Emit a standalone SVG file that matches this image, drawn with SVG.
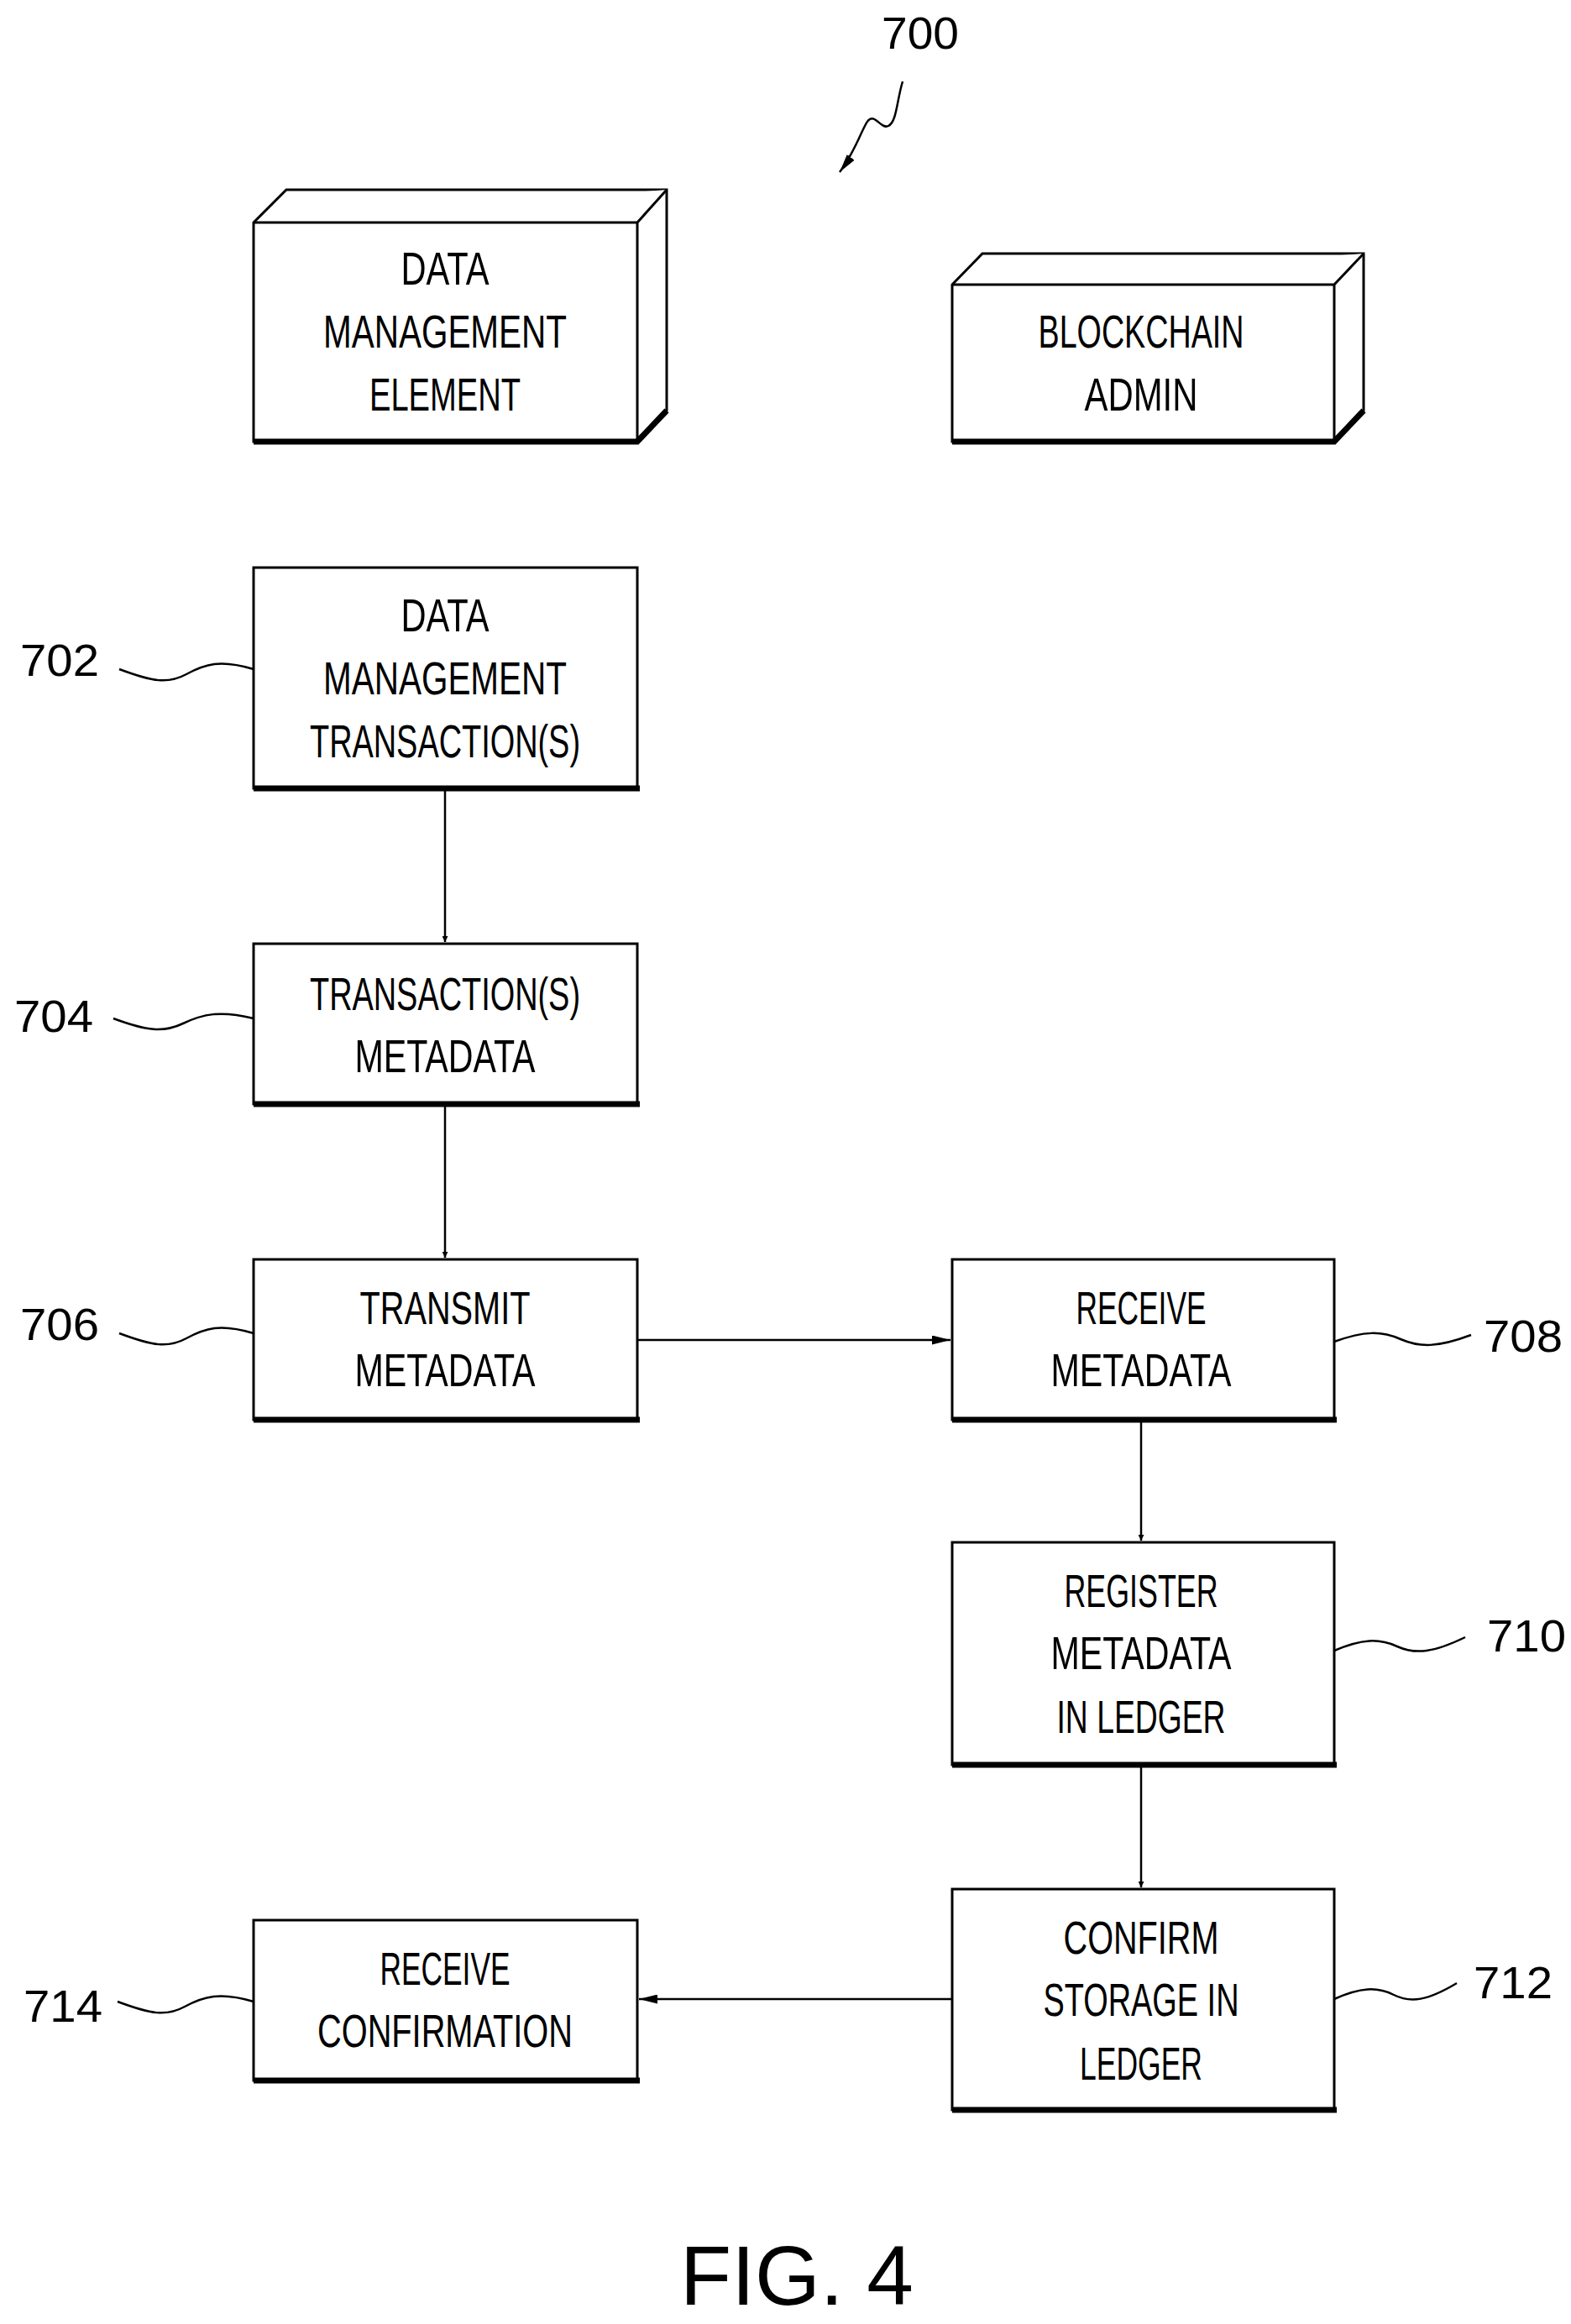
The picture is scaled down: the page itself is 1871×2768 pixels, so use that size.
<svg xmlns="http://www.w3.org/2000/svg" width="1871" height="2768" viewBox="0 0 1871 2768">
<style>
.b{fill:#fff;stroke:#000;stroke-width:3}
.sh{stroke:#000;stroke-width:7;fill:none}
.t{font-family:"Liberation Sans",Arial,sans-serif;font-size:56px;text-anchor:middle;fill:#000}
.n{font-family:"Liberation Sans",Arial,sans-serif;font-size:54px;text-anchor:middle;fill:#000}
.c{stroke:#000;stroke-width:2.5;fill:none}
.q{stroke:#000;stroke-width:2.5;fill:none}
</style>
<defs><marker id="a" viewBox="0 0 10 10" refX="10" refY="5" markerWidth="10" markerHeight="7" markerUnits="userSpaceOnUse" orient="auto"><path d="M0,0L10,5L0,10z" fill="#000"/></marker>
<marker id="a2" viewBox="0 0 20 10" refX="20" refY="5" markerWidth="22" markerHeight="11" markerUnits="userSpaceOnUse" orient="auto"><path d="M0,0L20,5L0,10z" fill="#000"/></marker></defs>
<g id="ref700"><text class="n" x="1096" y="58" textLength="92" lengthAdjust="spacingAndGlyphs">700</text>
<path class="q" d="M1075,97 C1068,120 1068,145 1058,150 C1048,155 1040,128 1030,150 C1020,170 1015,185 1000,205" marker-end="url(#a2)"/></g>
<g id="dme"><path class="b" d="M302,265 L341,226 L794,226 L794,489 L759,526 L302,526 Z"/><path class="b" d="M302,265 L759,265 L794,226 M759,265 L759,526"/><path class="sh" d="M302,526 L759,526 L794,489"/>
<text class="t" x="530" y="339" textLength="105" lengthAdjust="spacingAndGlyphs">DATA</text>
<text class="t" x="530" y="414" textLength="290" lengthAdjust="spacingAndGlyphs">MANAGEMENT</text>
<text class="t" x="530" y="489" textLength="180" lengthAdjust="spacingAndGlyphs">ELEMENT</text></g>
<g id="admin"><path class="b" d="M1134,339 L1170,302 L1624,302 L1624,489 L1589,526 L1134,526 Z"/><path class="b" d="M1134,339 L1589,339 L1624,302 M1589,339 L1589,526"/><path class="sh" d="M1134,526 L1589,526 L1624,489"/>
<text class="t" x="1359" y="414" textLength="245" lengthAdjust="spacingAndGlyphs">BLOCKCHAIN</text>
<text class="t" x="1359" y="489" textLength="135" lengthAdjust="spacingAndGlyphs">ADMIN</text></g>
<g id="n702"><rect class="b" x="302" y="676" width="457" height="263"/><path class="sh" d="M302,939H762"/>
<text class="t" x="530" y="752" textLength="105" lengthAdjust="spacingAndGlyphs">DATA</text>
<text class="t" x="530" y="827" textLength="290" lengthAdjust="spacingAndGlyphs">MANAGEMENT</text>
<text class="t" x="530" y="902" textLength="322" lengthAdjust="spacingAndGlyphs">TRANSACTION(S)</text>
<text class="n" x="71" y="805" textLength="94" lengthAdjust="spacingAndGlyphs">702</text>
<path class="q" d="M142,797 C182,812 200,815 222,803 S262,785 302,797"/></g>
<g id="n704"><rect class="b" x="302" y="1124" width="457" height="191"/><path class="sh" d="M302,1315H762"/>
<text class="t" x="530" y="1203" textLength="322" lengthAdjust="spacingAndGlyphs">TRANSACTION(S)</text>
<text class="t" x="530" y="1277" textLength="215" lengthAdjust="spacingAndGlyphs">METADATA</text>
<text class="n" x="64" y="1229" textLength="94" lengthAdjust="spacingAndGlyphs">704</text>
<path class="q" d="M135,1213 C175,1228 195,1230 218,1219 S262,1203 302,1213"/></g>
<g id="n706"><rect class="b" x="302" y="1500" width="457" height="191"/><path class="sh" d="M302,1691H762"/>
<text class="t" x="530" y="1577" textLength="203" lengthAdjust="spacingAndGlyphs">TRANSMIT</text>
<text class="t" x="530" y="1651" textLength="215" lengthAdjust="spacingAndGlyphs">METADATA</text>
<text class="n" x="71" y="1596" textLength="94" lengthAdjust="spacingAndGlyphs">706</text>
<path class="q" d="M142,1588 C182,1603 200,1606 222,1594 S262,1576 302,1588"/></g>
<g id="n708"><rect class="b" x="1134" y="1500" width="455" height="191"/><path class="sh" d="M1134,1691H1592"/>
<text class="t" x="1359" y="1577" textLength="155" lengthAdjust="spacingAndGlyphs">RECEIVE</text>
<text class="t" x="1359" y="1651" textLength="215" lengthAdjust="spacingAndGlyphs">METADATA</text>
<text class="n" x="1814" y="1610" textLength="94" lengthAdjust="spacingAndGlyphs">708</text>
<path class="q" d="M1589,1598 C1625,1585 1645,1585 1668,1595 S1712,1605 1752,1590"/></g>
<g id="n710"><rect class="b" x="1134" y="1837" width="455" height="265"/><path class="sh" d="M1134,2102H1592"/>
<text class="t" x="1359" y="1914" textLength="183" lengthAdjust="spacingAndGlyphs">REGISTER</text>
<text class="t" x="1359" y="1988" textLength="215" lengthAdjust="spacingAndGlyphs">METADATA</text>
<text class="t" x="1359" y="2064" textLength="201" lengthAdjust="spacingAndGlyphs">IN LEDGER</text>
<text class="n" x="1818" y="1967" textLength="94" lengthAdjust="spacingAndGlyphs">710</text>
<path class="q" d="M1589,1966 C1622,1952 1642,1951 1664,1961 S1708,1968 1745,1950"/></g>
<g id="n712"><rect class="b" x="1134" y="2250" width="455" height="263"/><path class="sh" d="M1134,2513H1592"/>
<text class="t" x="1359" y="2327" textLength="185" lengthAdjust="spacingAndGlyphs">CONFIRM</text>
<text class="t" x="1359" y="2401" textLength="233" lengthAdjust="spacingAndGlyphs">STORAGE IN</text>
<text class="t" x="1359" y="2477" textLength="146" lengthAdjust="spacingAndGlyphs">LEDGER</text>
<text class="n" x="1802" y="2380" textLength="94" lengthAdjust="spacingAndGlyphs">712</text>
<path class="q" d="M1589,2381 C1620,2367 1640,2366 1660,2376 S1700,2383 1735,2362"/></g>
<g id="n714"><rect class="b" x="302" y="2287" width="457" height="191"/><path class="sh" d="M302,2478H762"/>
<text class="t" x="530" y="2364" textLength="155" lengthAdjust="spacingAndGlyphs">RECEIVE</text>
<text class="t" x="530" y="2438" textLength="304" lengthAdjust="spacingAndGlyphs">CONFIRMATION</text>
<text class="n" x="75" y="2408" textLength="94" lengthAdjust="spacingAndGlyphs">714</text>
<path class="q" d="M140,2384 C180,2399 198,2402 220,2390 S262,2372 302,2384"/></g>
<g id="connectors">
<path class="c" d="M530,941V1122" marker-end="url(#a)"/>
<path class="c" d="M530,1318V1498" marker-end="url(#a)"/>
<path class="c" d="M759,1596H1132" marker-end="url(#a2)"/>
<path class="c" d="M1359,1694V1835" marker-end="url(#a)"/>
<path class="c" d="M1359,2105V2248" marker-end="url(#a)"/>
<path class="c" d="M1134,2381H761" marker-end="url(#a2)"/>
</g>
<text x="949" y="2745" font-family="Liberation Sans,Arial,sans-serif" font-size="100" text-anchor="middle">FIG. 4</text>
</svg>
